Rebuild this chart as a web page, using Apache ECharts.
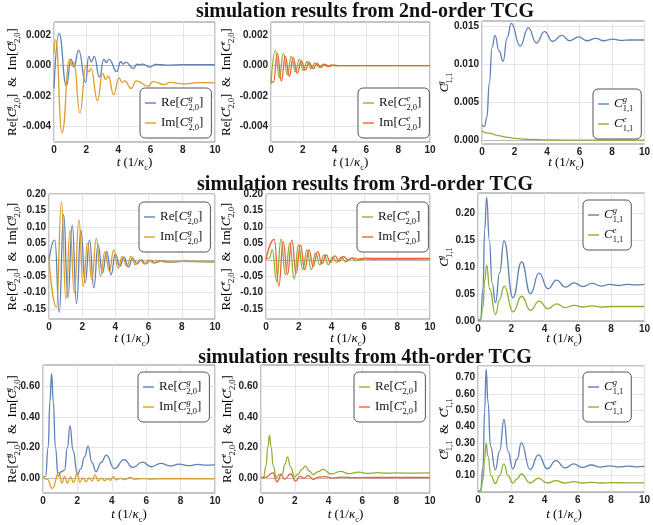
<!DOCTYPE html>
<html>
<head>
<meta charset="utf-8">
<script src="https://cdn.jsdelivr.net/npm/echarts@6/dist/echarts.min.js"></script>
<style>
  html, body { margin: 0; padding: 0; background: #fff; }
  #chart { width: 653px; height: 525px; }
</style>
</head>
<body>
<div id="chart"></div>
<script>
// ---- data: [t, value] at extrema / turning points ----
const tValues = [0, 2, 4, 6, 8, 10];
const rowTitles = ['simulation results from 2nd-order TCG', 'simulation results from 3rd-order TCG', 'simulation results from 4th-order TCG'];

// 2nd-order TCG
const tcg2ReG = [[0,-0.0015],[0.31,0.0021],[0.77,-0.0013],[1.06,0.0004],[1.24,-0.0001],[1.53,0.001],[1.97,-0.0011],[2.15,0.0006],[2.32,0.00025],[2.5,0.0006],[2.82,-0.00076],[3.1,0.0004],[3.25,0.0002],[3.42,0.0004],[3.9,-0.0004],[4.14,0.00025],[4.3,0.0001],[4.47,0.00022],[4.93,-0.0002],[5.15,0.0001],[5.3,0.00005],[5.5,0.0001],[5.95,-0.0001],[6.3,0.00008],[7,0.00003],[8,0.00006],[10,0.00006]];
const tcg2ImG = [[0,0.0008],[0.1,0.0017],[0.5,-0.0044],[0.97,0.0004],[1.12,0.0],[1.24,0.0002],[1.61,-0.0031],[1.99,0.0],[2.15,-0.0004],[2.3,-0.0002],[2.7,-0.0023],[3.02,-0.0005],[3.2,-0.0009],[3.38,-0.0007],[3.7,-0.0019],[4.04,-0.0008],[4.22,-0.0011],[4.4,-0.001],[4.8,-0.0015],[5.1,-0.001],[5.85,-0.00135],[6.15,-0.00105],[6.85,-0.00125],[7.2,-0.0011],[8,-0.0012],[9,-0.00112],[10,-0.00113]];
const tcg2ReE = [[0,-0.0012],[0.28,0.001],[0.52,-0.0008],[0.78,0.0008],[1.03,-0.0006],[1.28,0.0006],[1.53,-0.0004],[1.78,0.0004],[2.03,-0.0003],[2.28,0.00028],[2.53,-0.0002],[2.78,0.00018],[3.03,-0.00012],[3.28,0.0001],[3.55,-0.00006],[3.8,0.00005],[4.1,-0.00002],[4.5,0],[10,0]];
const tcg2ImE = [[0,-0.001],[0.15,-0.0011],[0.4,0.0008],[0.65,-0.001],[0.9,0.0006],[1.15,-0.0007],[1.4,0.0005],[1.65,-0.0005],[1.9,0.0003],[2.15,-0.0003],[2.4,0.0002],[2.65,-0.0002],[2.9,0.00012],[3.15,-0.00012],[3.4,0.00007],[3.67,-0.00006],[3.95,0.00003],[4.3,0],[10,0]];
const tcg2Cg = [[0,0.002],[0.15,0.0018],[0.3,0.003],[0.45,0.0075],[0.62,0.0122],[0.8,0.0138],[1.05,0.0118],[1.3,0.0104],[1.55,0.0135],[1.8,0.0154],[2.35,0.0124],[2.85,0.0148],[3.35,0.0128],[3.85,0.0143],[4.35,0.013],[4.9,0.0138],[5.4,0.0131],[5.95,0.0136],[6.45,0.0131],[7.0,0.0134],[7.5,0.0131],[8.05,0.0133],[8.6,0.01315],[9.1,0.0132],[10,0.0132]];
const tcg2Ce = [[0,0.0012],[0.5,0.0009],[1,0.0006],[1.5,0.0004],[2,0.00025],[2.5,0.00015],[3,0.0001],[4,0.00004],[5,0.00001],[6,0],[10,0]];

// 3rd-order TCG
const tcg3ReG = [[0,0],[0.35,0.06],[0.62,-0.16],[0.88,0.138],[1.14,-0.115],[1.4,0.105],[1.66,-0.133],[1.92,0.09],[2.18,-0.07],[2.44,0.06],[2.7,-0.085],[2.96,0.045],[3.22,-0.04],[3.48,0.025],[3.74,-0.045],[4.0,0.018],[4.26,-0.02],[4.52,0.008],[4.78,-0.022],[5.04,0.004],[5.3,-0.012],[5.56,0.0],[5.82,-0.013],[6.1,-0.002],[6.4,-0.009],[6.8,-0.003],[7.2,-0.007],[8,-0.005],[10,-0.006]];
const tcg3ImG = [[0,0],[0.45,-0.145],[0.75,0.177],[1.02,-0.12],[1.27,0.09],[1.53,-0.1],[1.8,0.122],[2.06,-0.08],[2.32,0.05],[2.58,-0.06],[2.85,0.065],[3.1,-0.05],[3.37,0.025],[3.63,-0.035],[3.9,0.03],[4.16,-0.025],[4.42,0.01],[4.68,-0.02],[4.95,0.01],[5.2,-0.015],[5.47,0.0],[5.73,-0.012],[6.0,0.0],[6.3,-0.01],[6.6,-0.002],[7,-0.007],[8,-0.005],[10,-0.006]];
const tcg3ReE = [[0,0],[0.2,0.005],[0.38,0.03],[0.65,-0.065],[0.92,0.063],[1.18,-0.045],[1.45,0.05],[1.72,-0.058],[1.98,0.045],[2.24,-0.03],[2.5,0.03],[2.76,-0.03],[3.02,0.02],[3.28,-0.015],[3.55,0.015],[3.8,-0.015],[4.06,0.008],[4.32,-0.008],[4.6,0.008],[4.86,-0.006],[5.2,0.004],[5.5,-0.002],[6,0.002],[7,0.001],[10,0.002]];
const tcg3ImE = [[0,0],[0.5,0.062],[0.78,-0.08],[1.05,0.055],[1.31,-0.045],[1.57,0.06],[1.84,-0.04],[2.1,0.045],[2.36,-0.03],[2.62,0.03],[2.88,-0.02],[3.15,0.025],[3.41,-0.012],[3.67,0.015],[3.93,-0.008],[4.2,0.012],[4.46,-0.004],[4.72,0.01],[5.0,0.0],[5.3,0.006],[5.6,0.002],[6,0.005],[7,0.004],[10,0.004]];
const tcg3Cg = [[0,0],[0.15,0.003],[0.3,0.06],[0.4,0.17],[0.52,0.23],[0.68,0.15],[0.85,0.07],[1.05,0.034],[1.3,0.09],[1.56,0.149],[2.1,0.043],[2.62,0.11],[3.15,0.051],[3.67,0.089],[4.2,0.06],[4.72,0.076],[5.25,0.063],[5.78,0.071],[6.3,0.064],[6.85,0.07],[7.4,0.065],[7.9,0.068],[8.45,0.066],[9,0.068],[9.5,0.067],[10,0.068]];
const tcg3Ce = [[0,0],[0.15,0.001],[0.3,0.025],[0.4,0.075],[0.52,0.104],[0.7,0.06],[1.05,0.012],[1.3,0.04],[1.57,0.065],[2.1,0.017],[2.62,0.046],[3.15,0.02],[3.67,0.037],[4.2,0.023],[4.72,0.032],[5.25,0.025],[5.78,0.029],[6.3,0.026],[6.85,0.028],[7.4,0.026],[8,0.027],[9,0.027],[10,0.027]];

// 4th-order TCG
const tcg4ReG = [[0,0],[0.15,0.01],[0.3,0.2],[0.4,0.5],[0.5,0.688],[0.6,0.5],[0.72,0.2],[0.88,0.01],[1.05,0.04],[1.25,0.05],[1.42,0.2],[1.57,0.343],[1.75,0.18],[2.0,0.02],[2.2,0.06],[2.42,0.14],[2.62,0.209],[2.85,0.1],[3.08,0.04],[3.38,0.1],[3.68,0.15],[4.15,0.06],[4.72,0.12],[5.22,0.068],[5.78,0.103],[6.3,0.073],[6.85,0.095],[7.4,0.078],[7.9,0.09],[8.45,0.08],[9.0,0.088],[9.5,0.083],[10,0.085]];
const tcg4ImG = [[0,0],[0.25,-0.01],[0.54,-0.07],[0.93,0.035],[1.1,-0.035],[1.25,0.01],[1.42,-0.035],[1.6,0.005],[1.78,-0.03],[1.98,0.03],[2.14,-0.03],[2.32,0.0],[2.5,-0.025],[2.7,0.0],[2.85,-0.022],[3.03,0.02],[3.2,-0.02],[3.4,-0.002],[3.58,-0.018],[3.75,-0.005],[3.92,-0.016],[4.08,0.008],[4.25,-0.014],[4.5,-0.004],[4.7,-0.012],[5.1,0.002],[5.3,-0.01],[5.8,-0.005],[6.3,-0.008],[7,-0.006],[10,-0.007]];
const tcg4ReE = [[0,0],[0.15,0.005],[0.3,0.08],[0.4,0.2],[0.5,0.281],[0.6,0.2],[0.72,0.08],[0.9,0.003],[1.05,0.02],[1.25,0.025],[1.42,0.09],[1.57,0.138],[1.75,0.07],[2.0,0.007],[2.2,0.025],[2.42,0.055],[2.62,0.077],[2.85,0.045],[3.08,0.022],[3.38,0.04],[3.68,0.055],[4.15,0.025],[4.72,0.042],[5.22,0.027],[5.78,0.037],[6.3,0.029],[6.85,0.034],[7.4,0.03],[8,0.032],[9,0.031],[10,0.032]];
const tcg4ImE = [[0,0],[0.3,0.005],[0.7,0.033],[0.95,-0.026],[1.2,0.02],[1.4,-0.008],[1.75,0.025],[2.05,-0.022],[2.3,0.01],[2.55,-0.002],[2.8,0.014],[3.1,-0.01],[3.4,0.005],[3.8,0.008],[4.2,-0.002],[4.8,0.004],[5.5,0.001],[6.5,0.002],[10,0.002]];
const tcg4Cg = [[0,0],[0.15,0.01],[0.3,0.15],[0.4,0.5],[0.49,0.75],[0.6,0.55],[0.75,0.28],[1.04,0.135],[1.3,0.25],[1.56,0.443],[1.8,0.25],[2.09,0.141],[2.35,0.2],[2.6,0.3],[3.13,0.137],[3.63,0.227],[4.16,0.142],[4.69,0.192],[5.22,0.147],[5.75,0.172],[6.28,0.15],[6.8,0.165],[7.35,0.152],[7.9,0.16],[8.45,0.153],[9,0.158],[9.5,0.154],[10,0.156]];
const tcg4Ce = [[0,0],[0.15,0.005],[0.3,0.07],[0.4,0.2],[0.49,0.3],[0.6,0.22],[0.78,0.1],[1.04,0.052],[1.3,0.1],[1.56,0.172],[1.8,0.1],[2.09,0.055],[2.35,0.08],[2.6,0.11],[3.13,0.055],[3.63,0.084],[4.16,0.055],[4.69,0.069],[5.22,0.055],[5.75,0.063],[6.28,0.055],[6.8,0.059],[7.35,0.055],[8,0.057],[9,0.056],[10,0.056]];

// y axis ranges per panel: [min, max, tick step, labelled step, decimals]
const yRanges = [
  [-0.005, 0.00285, 0.0005, 0.002, 3],
  [-0.005, 0.00285, 0.0005, 0.002, 3],
  [-0.0005, 0.0157, 0.0005, 0.005, 3],
  [-0.18, 0.2, 0.01, 0.05, 2],
  [-0.18, 0.2, 0.01, 0.05, 2],
  [0, 0.238, 0.01, 0.05, 2],
  [-0.1, 0.743, 0.05, 0.2, 2],
  [-0.1, 0.743, 0.05, 0.2, 2],
  [0, 0.77, 0.05, 0.1, 2]
];

const BLUE = '#5E81B5', ORANGE = '#E19C24', GREEN = '#8FB032', RED = '#EB6235';
const SERIF = '"Liberation Serif", "Times New Roman", serif';
const SANS = '"Liberation Sans", Arial, sans-serif';

const grids = [
  {left: 54, top: 22, width: 161, height: 120},
  {left: 271, top: 22, width: 159, height: 120},
  {left: 482, top: 21, width: 168, height: 123},
  {left: 49, top: 194, width: 166, height: 125},
  {left: 266, top: 194, width: 164, height: 125},
  {left: 478, top: 193, width: 172, height: 128},
  {left: 43, top: 365, width: 172, height: 128},
  {left: 261, top: 365, width: 169, height: 128},
  {left: 478, top: 366, width: 172, height: 126}
];

// rich text helpers
const rich = {
  n: {fontFamily: SERIF, fontSize: 13, lineHeight: 18, color: '#111'},
  i: {fontFamily: SERIF, fontSize: 13, fontStyle: 'italic', lineHeight: 18, color: '#111'},
  sp: {fontFamily: SERIF, fontSize: 8.5, fontStyle: 'italic', verticalAlign: 'top', width: 0, color: '#111'},
  sb: {fontFamily: SERIF, fontSize: 8.5, verticalAlign: 'bottom', color: '#111'}
};
function cx(sup, sub) { return '{i|C}{sp|' + sup + '}{sb|' + sub + '}'; }
function reim(s) { return '{n|Re[}' + cx(s, '2,0') + '{n|]}'; }
function imre(s) { return '{n|Im[}' + cx(s, '2,0') + '{n|]}'; }

const labels = {};
const series = [];
const legends = [];
const legendPos = [[140, 88], [358, 88], [593, 89], [139, 202], [357, 202], [583, 200], [138, 372], [354, 372], [583, 372]];

function addLine(key, text, data, color, idx) {
  labels[key] = text;
  series.push({
    type: 'line', name: key, data: data, xAxisIndex: idx, yAxisIndex: idx,
    smooth: 0.5, smoothMonotone: 'x', symbol: 'none', clip: true,
    lineStyle: {color: color, width: 1.3}, itemStyle: {color: color}
  });
}
const panels = [
  [tcg2ReG, tcg2ImG, 'g', 'ReIm'], [tcg2ReE, tcg2ImE, 'e', 'ReIm'], [tcg2Cg, tcg2Ce, '', 'C'],
  [tcg3ReG, tcg3ImG, 'g', 'ReIm'], [tcg3ReE, tcg3ImE, 'e', 'ReIm'], [tcg3Cg, tcg3Ce, '', 'C'],
  [tcg4ReG, tcg4ImG, 'g', 'ReIm'], [tcg4ReE, tcg4ImE, 'e', 'ReIm'], [tcg4Cg, tcg4Ce, '', 'C']
];
panels.forEach(function (p, idx) {
  let k1 = 'p' + idx + 'a', k2 = 'p' + idx + 'b';
  if (p[3] === 'ReIm') {
    let c1 = p[2] === 'g' ? BLUE : GREEN, c2 = p[2] === 'g' ? ORANGE : RED;
    addLine(k1, reim(p[2]), p[0], c1, idx);
    addLine(k2, imre(p[2]), p[1], c2, idx);
  } else {
    addLine(k1, cx('g', '1,1'), p[0], BLUE, idx);
    addLine(k2, cx('e', '1,1'), p[1], GREEN, idx);
  }
  legends.push({
    data: [k1, k2], left: legendPos[idx][0], top: legendPos[idx][1],
    orient: 'vertical', itemGap: 2, itemWidth: 11, itemHeight: 1.4, icon: 'rect',
    padding: [6, 8, 6, 5], backgroundColor: '#fff', borderColor: '#555', borderWidth: 1, borderRadius: 5,
    selectedMode: false,
    formatter: function (name) { return labels[name]; },
    textStyle: {rich: rich}
  });
});

function isMult(v, m) { let r = v / m; return Math.abs(r - Math.round(r)) < 1e-6; }

const xAxes = grids.map(function (g, idx) {
  return {
    type: 'value', gridIndex: idx, min: 0, max: 10, interval: 2,
    axisLine: {show: false}, axisTick: {show: false},
    axisLabel: {margin: 3, fontFamily: SANS, fontWeight: 'bold', fontSize: 10, color: '#222',
      formatter: function (v) { return tValues.indexOf(v) >= 0 ? String(v) : ''; }},
    splitLine: {show: true, lineStyle: {color: '#e4e4e4', width: 1}}
  };
});

const yAxes = yRanges.map(function (r, idx) {
  let min = r[0], max = r[1], step = r[2], major = r[3], dec = r[4];
  let colors = [];
  for (let i = 0; min + i * step <= max + step; i++) {
    let v = min + i * step;
    if (Math.abs(v) < step * 1e-3) colors.push('#b8b8b8');
    else if (isMult(v, major)) colors.push('#e4e4e4');
    else colors.push('rgba(0,0,0,0)');
  }
  return {
    type: 'value', gridIndex: idx, min: min, max: max, interval: step,
    axisLine: {show: false}, axisTick: {show: false},
    axisLabel: {margin: 3, fontFamily: SANS, fontWeight: 'bold', fontSize: 10, color: '#222',
      formatter: function (v) {
        if (Math.abs(v) < 1e-12) v = 0;
        if (!isMult(v, major)) return '';
        if (idx === 8 && v === 0) return '';
        return v.toFixed(dec);
      }},
    splitLine: {show: true, lineStyle: {color: colors, width: 1}}
  };
});

// titles and axis names
const graphics = [];
const titleY = [12, 185, 358];
rowTitles.forEach(function (t, i) {
  graphics.push({type: 'text', x: 365, y: titleY[i], z: 100,
    style: {text: t, font: 'bold 20px ' + SERIF, fill: '#111', align: 'center', verticalAlign: 'middle'}});
});
const xNameY = [163, 339, 515];
const yNameX = [13, 227, 445, 13, 227, 445, 13, 228, 445];
const yNames = [
  reim('g') + '{n|  &  }' + imre('g'), reim('e') + '{n|  &  }' + imre('e'), cx('g', '1,1'),
  reim('g') + '{n|  &  }' + imre('g'), reim('e') + '{n|  &  }' + imre('e'), cx('g', '1,1'),
  reim('g') + '{n|  &  }' + imre('g'), reim('e') + '{n|  &  }' + imre('e'), cx('g', '1,1') + '{n|  &  }' + cx('e', '1,1')
];
grids.forEach(function (g, idx) {
  graphics.push({type: 'text', x: g.left + g.width / 2, y: xNameY[Math.floor(idx / 3)], z: 100,
    style: {text: '{i|t}{n| (1/}{i|κ}{sb|c}{n|)}', rich: rich, align: 'center', verticalAlign: 'middle'}});
  graphics.push({type: 'text', x: yNameX[idx], y: g.top + g.height / 2, rotation: Math.PI / 2, z: 100,
    style: {text: yNames[idx], rich: rich, align: 'center', verticalAlign: 'middle'}});
});

const chart = echarts.init(document.getElementById('chart'));
chart.setOption({
  animation: false,
  backgroundColor: '#fff',
  grid: grids.map(function (g) {
    return Object.assign({show: true, borderColor: '#8a8a8a', borderWidth: 1, backgroundColor: 'rgba(0,0,0,0)'}, g);
  }),
  xAxis: xAxes,
  yAxis: yAxes,
  legend: legends,
  series: series,
  graphic: graphics
});
</script>
</body>
</html>
